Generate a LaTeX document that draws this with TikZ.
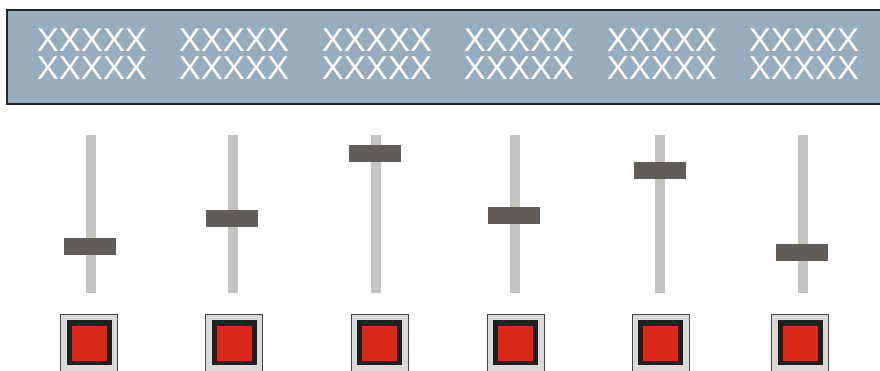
\documentclass[tikz,border=0pt]{standalone}
\usepackage{fontspec}
\setmainfont{Liberation Sans}
\definecolor{panelfill}{RGB}{150,173,189}
\definecolor{panelborder}{RGB}{34,34,34}
\definecolor{trackc}{RGB}{195,195,193}
\definecolor{knobc}{RGB}{96,92,90}
\definecolor{btnouter}{RGB}{218,218,218}
\definecolor{btnedge}{RGB}{70,68,68}
\definecolor{btninner}{RGB}{35,31,30}
\definecolor{btnred}{RGB}{220,42,26}
\begin{document}
\begin{tikzpicture}[x=1pt,y=-1pt,
  panelbox/.style={draw=panelborder,line width=2pt,fill=panelfill},
  label/.style={text=white,font=\fontsize{33}{28}\selectfont,align=center,inner sep=0pt},
  track/.style={fill=trackc,draw=none,minimum width=10pt,minimum height=158pt,inner sep=0pt},
  knob/.style={fill=knobc,draw=none,minimum width=52pt,minimum height=17pt,inner sep=0pt},
  btnbox/.style={fill=btnouter,draw=btnedge,line width=1pt,minimum width=57pt,minimum height=70pt,inner sep=0pt},
  btnin/.style={fill=btninner,draw=none,minimum width=45pt,minimum height=45pt,inner sep=0pt},
  btnface/.style={fill=btnred,draw=none,minimum width=35pt,minimum height=35pt,inner sep=0pt}]
\useasboundingbox (0,0) rectangle (880,370);
\fill[white] (0,0) rectangle (880,370);
\draw[panelbox] (7,10) rectangle (890,103.5);
% labels
\foreach \i/\x in {1/92,2/234,3/377,4/519,5/662,6/804}{
  \node[label] (lab\i) at (\x,54) {XXXXX\\XXXXX};
}
% sliders
\foreach \i/\x/\k/\kx in {1/91/246.5/90,2/233/218.5/232,3/375.5/153/375,4/515/215.5/514,5/660/170.5/660,6/802.5/252/801.5}{
  \node[track] (track\i) at (\x,214) {};
  \node[knob] (knob\i) at (\kx,\k) {};
}
% buttons
\foreach \i/\x in {1/89.2,2/234,3/379.5,4/515.5,5/660.5,6/800.3}{
  \node[btnbox] (btn\i) at (\x,349) {};
  \node[btnin] (btnin\i) at (\x,342.5) {};
  \node[btnface] (btnface\i) at (\x,343) {};
}
\end{tikzpicture}
\end{document}
